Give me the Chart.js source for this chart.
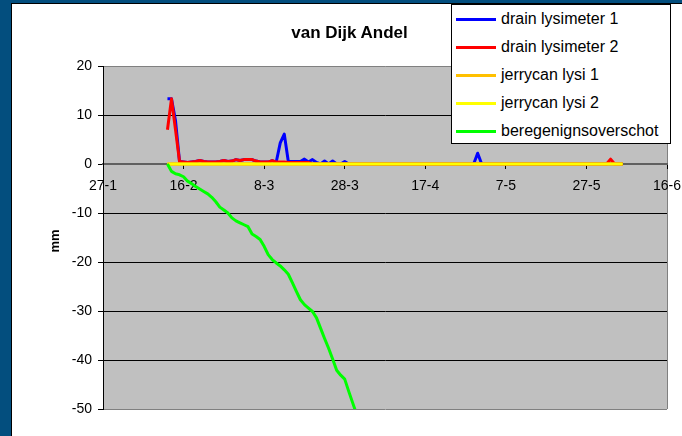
<!DOCTYPE html>
<html>
<head>
<meta charset="utf-8">
<script src="https://cdn.jsdelivr.net/npm/chart.js@4/dist/chart.umd.min.js"></script>
<style>
    body { margin: 0; width: 682px; height: 436px; overflow: hidden; background: #034e7e; font-family: Arial, "Liberation Sans", sans-serif; }
    #panel { position: absolute; left: 11px; top: 3px; width: 720px; height: 480px; background: #fff; border: 1px solid #000; }
    #chart { position: absolute; left: 0; top: 0; }
    #title { position: absolute; left: 0; top: 22px; width: 699px; text-align: center; font-weight: bold; font-size: 17px; line-height: 22px; }
    #ytitle { position: absolute; left: 40px; top: 232px; width: 30px; text-align: center; font-weight: bold; font-size: 13px; line-height: 18px; transform: rotate(-90deg); }
    #legend { position: absolute; left: 451px; top: 4px; width: 218px; height: 138px; background: #fff; border: 1px solid #000; z-index: 2; }
    .item { height: 28px; line-height: 28px; font-size: 16px; white-space: nowrap; }
    .item span { display: inline-block; width: 40px; height: 3px; vertical-align: middle; margin: 0 5px 0 4px; }
</style>
</head>
<body>
<div id="panel"></div>
<canvas id="chart" width="682" height="436"></canvas>
<div id="title">van Dijk Andel</div>
<div id="ytitle">mm</div>
<div id="legend"></div>
<script>
// Eje x: días desde 27-1, una etiqueta cada 20 días
const xTickLabels = ['27-1', '16-2', '8-3', '28-3', '17-4', '7-5', '27-5', '16-6'];
const firstDay = 16; // 12-2

// Series diarias (mm) a partir de firstDay
const drain1 = [
    13.3, 13.3, 8.8, 0.5, 0.4, 0.3, 0.4, 0.5, 0.7, 0.5,
    0.4, 0.4, 0.4, 0.5, 0.7, 0.5, 0.6, 0.9, 0.7, 0.9,
    0.9, 0.9, 0.6, 0.4, 0.4, 0.4, 0.7, 0.4, 4.3, 6.1,
    0.5, 0.5, 0.5, 0.5, 1.0, 0.4, 0.9, 0.3, 0, 0.6,
    0, 0.6, 0, 0, 0.5, 0, 0, 0, 0, 0,
    0, 0, 0, 0, 0, 0, 0, 0, 0, 0,
    0, 0, 0, 0, 0, 0, 0, 0, 0, 0,
    0, 0, 0, 0, 0, 0, 0, 2.2, 0, 0,
    0, 0, 0, 0, 0, 0, 0, 0, 0, 0,
    0, 0, 0, 0, 0, 0, 0, 0, 0, 0,
    0, 0, 0, 0, 0, 0, 0, 0, 0, 0,
    0, 0, 0, 0
];
const drain2 = [
    7.0, 13.3, 7.0, 0.5, 0.4, 0.3, 0.4, 0.5, 0.7, 0.5,
    0.4, 0.4, 0.4, 0.5, 0.7, 0.5, 0.6, 0.9, 0.7, 0.9,
    0.9, 0.9, 0.6, 0.4, 0.4, 0.4, 0.7, 0.4, 0.4, 0.4,
    0.3, 0.3, 0.3, 0.3, 0.3, 0.3, 0, 0, 0, 0,
    0, 0, 0, 0, 0, 0, 0, 0, 0, 0,
    0, 0, 0, 0, 0, 0, 0, 0, 0, 0,
    0, 0, 0, 0, 0, 0, 0, 0, 0, 0,
    0, 0, 0, 0, 0, 0, 0, 0, 0, 0,
    0, 0, 0, 0, 0, 0, 0, 0, 0, 0,
    0, 0, 0, 0, 0, 0, 0, 0, 0, 0,
    0, 0, 0, 0, 0, 0, 0, 0, 0, 0,
    1.0, 0, 0, 0
];
const jerrycan1 = [
    0, 0, 0, 0, 0, 0, 0, 0, 0, 0,
    0, 0, 0, 0, 0, 0, 0, 0, 0, 0,
    0, 0, 0, 0, 0, 0, 0, 0, 0, 0,
    0, 0, 0, 0, 0, 0, 0, 0, 0, 0,
    0, 0, 0, 0, 0, 0, 0, 0, 0, 0,
    0, 0, 0, 0, 0, 0, 0, 0, 0, 0,
    0, 0, 0, 0, 0, 0, 0, 0, 0, 0,
    0, 0, 0, 0, 0, 0, 0, 0, 0, 0,
    0, 0, 0, 0, 0, 0, 0, 0, 0, 0,
    0, 0, 0, 0, 0, 0, 0, 0, 0, 0,
    0, 0, 0, 0, 0, 0, 0, 0, 0, 0,
    0, 0, 0, 0
];
const jerrycan2 = [
    0, 0, 0, 0, 0, 0, 0, 0, 0, 0,
    0, 0, 0, 0, 0, 0, 0, 0, 0, 0,
    0, 0, 0, 0, 0, 0, 0, 0, 0, 0,
    0, 0, 0, 0, 0, 0, 0, 0, 0, 0,
    0, 0, 0, 0, 0, 0, 0, 0, 0, 0,
    0, 0, 0, 0, 0, 0, 0, 0, 0, 0,
    0, 0, 0, 0, 0, 0, 0, 0, 0, 0,
    0, 0, 0, 0, 0, 0, 0, 0, 0, 0,
    0, 0, 0, 0, 0, 0, 0, 0, 0, 0,
    0, 0, 0, 0, 0, 0, 0, 0, 0, 0,
    0, 0, 0, 0, 0, 0, 0, 0, 0, 0,
    0, 0, 0, 0
];
const overschot = [
    0, -1.5, -2.0, -2.2, -2.6, -3.5, -4.0, -4.6, -5.1, -5.6,
    -6.1, -6.8, -7.7, -8.8, -9.4, -10.0, -11.0, -11.6, -12.0, -12.4,
    -12.8, -14.3, -14.8, -15.4, -16.8, -18.5, -19.5, -20.2, -20.8, -21.6,
    -22.5, -24.2, -26.0, -27.7, -28.7, -29.4, -30.1, -31.4, -33.5, -35.6,
    -37.6, -39.8, -42.1, -43.1, -43.9, -46.4, -48.8, -51.2, -53.0
];

const seriesNames = ['drain lysimeter 1', 'drain lysimeter 2', 'jerrycan lysi 1', 'jerrycan lysi 2', 'beregenignsoverschot'];
const seriesColors = ['#0000ff', '#ff0000', '#ffc000', '#ffff00', '#00ff00'];
const seriesValues = [drain1, drain2, jerrycan1, jerrycan2, overschot];

/**
 * Convierte una serie diaria en puntos {x, y}
 */
function toPoints(values) {
    return values.map((v, i) => ({ x: firstDay + i, y: v }));
}

/**
 * Leyenda en HTML (cuadro encima del gráfico, como en Excel)
 */
function buildLegend() {
    let html = '';
    seriesNames.forEach(function(name, i) {
        html += `<div class="item"><span style="background:${seriesColors[i]}"></span>${name}</div>`;
    });
    document.getElementById('legend').innerHTML = html;
}

// Fondo gris del área de trazado
const plotBackground = {
    id: 'plotBackground',
    beforeDraw(chart) {
        const { ctx, chartArea: a } = chart;
        ctx.save();
        ctx.fillStyle = '#c0c0c0';
        ctx.fillRect(a.left, a.top, a.right - a.left, a.bottom - a.top);
        ctx.strokeStyle = '#808080';
        ctx.lineWidth = 1;
        ctx.beginPath();
        ctx.moveTo(a.right + 0.5, a.top);
        ctx.lineTo(a.right + 0.5, a.bottom);
        ctx.stroke();
        ctx.restore();
    }
};

const widths = [3, 3, 3.5, 2.5, 3];

buildLegend();

new Chart(document.getElementById('chart'), {
    type: 'line',
    data: {
        datasets: seriesValues.map((values, i) => ({
            label: seriesNames[i],
            data: toPoints(values),
            borderColor: seriesColors[i],
            borderWidth: widths[i],
            borderJoinStyle: 'round',
            pointRadius: 0,
            tension: 0,
            fill: false,
            order: seriesValues.length - 1 - i // la última serie queda encima
        }))
    },
    options: {
        responsive: false,
        animation: false,
        layout: { padding: { left: 63, top: 66, right: 15, bottom: 27 } },
        plugins: { legend: { display: false }, tooltip: { enabled: false } },
        scales: {
            x: {
                type: 'linear',
                position: { y: 0 },
                min: 0,
                max: 140,
                afterFit: (scale) => {
                    scale.height = 0;
                    scale.paddingLeft = 0;
                    scale.paddingRight = 0;
                },
                ticks: {
                    stepSize: 20,
                    autoSkip: false,
                    maxRotation: 0,
                    padding: 10,
                    color: '#000',
                    font: { family: 'Arial, "Liberation Sans"', size: 14 },
                    callback: (v) => xTickLabels[v / 20]
                },
                grid: { drawOnChartArea: false, drawTicks: true, tickLength: 4, tickColor: '#000' },
                border: { display: true, color: '#606060', width: 2 }
            },
            y: {
                min: -50,
                max: 20,
                afterFit: (scale) => { scale.width = 40; },
                ticks: {
                    stepSize: 10,
                    padding: 6,
                    color: '#000',
                    font: { family: 'Arial, "Liberation Sans"', size: 14 }
                },
                grid: {
                    tickLength: 5,
                    tickColor: '#000',
                    color: (c) => (c.tick && (c.tick.value === 20 || c.tick.value === -50)) ? '#808080' : '#000'
                },
                border: { color: '#000', width: 1 }
            }
        }
    },
    plugins: [plotBackground]
});
</script>
</body>
</html>
